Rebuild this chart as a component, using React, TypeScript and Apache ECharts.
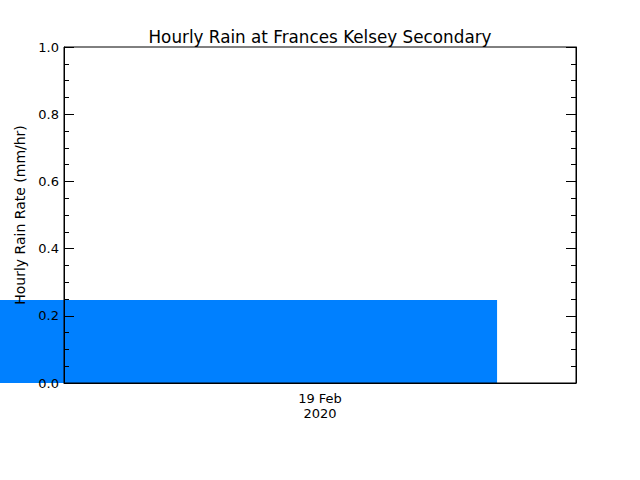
import { useEffect, useRef } from 'react'
import * as echarts from 'echarts'

// x axis in hours of 19 Feb 2020 (axis spans 0..24), bar spills left of the plot
const xTickValues = [12]
const xTickLabels = ['19 Feb\n2020']
const barStarts = [-3]
const barEnds = [20.3]
const rainRates = [0.247]

const FONT = '"DejaVu Sans", sans-serif'

export default function App() {
  const chartRef = useRef<HTMLDivElement>(null)

  useEffect(() => {
    if (!chartRef.current) return
    const chart = echarts.init(chartRef.current, null, { renderer: 'svg' })

    const yAxisBase = {
      type: 'value',
      min: 0,
      max: 1,
      interval: 0.2,
      z: 10,
      splitLine: { show: false },
      axisLine: { show: true, lineStyle: { color: '#000', width: 1 } },
      axisTick: { show: true, inside: true, length: 10, lineStyle: { color: '#000' } },
      minorTick: { show: true, splitNumber: 4, length: 5, lineStyle: { color: '#000' } },
    }

    const option = {
      animation: false,
      backgroundColor: '#fff',
      title: {
        text: 'Hourly Rain at Frances Kelsey Secondary',
        left: 'center',
        top: 23,
        textStyle: { fontFamily: FONT, fontSize: 16.8, fontWeight: 'normal', color: '#000' },
      },
      grid: {
        left: 64,
        top: 47,
        width: 512,
        height: 336,
        show: true,
        z: 10,
        borderColor: '#000',
        borderWidth: 1,
        backgroundColor: 'transparent',
      },
      xAxis: {
        type: 'value',
        min: 0,
        max: 24,
        interval: 12,
        z: 10,
        splitLine: { show: false },
        axisLine: { show: true, lineStyle: { color: '#000' } },
        axisTick: { show: false },
        axisLabel: {
          margin: 8,
          fontFamily: FONT,
          fontSize: 13,
          lineHeight: 15,
          color: '#000',
          showMinLabel: false,
          showMaxLabel: false,
          formatter: (v: number) => {
            const i = xTickValues.indexOf(v)
            return i >= 0 ? xTickLabels[i] : ''
          },
        },
      },
      yAxis: [
        {
          ...yAxisBase,
          name: 'Hourly Rain Rate (mm/hr)',
          nameLocation: 'middle',
          nameGap: 35,
          nameTextStyle: { fontFamily: FONT, fontSize: 14, color: '#000' },
          axisLabel: {
            fontFamily: FONT,
            fontSize: 13,
            color: '#000',
            margin: 5,
            formatter: (v: number) => v.toFixed(1),
          },
        },
        {
          ...yAxisBase,
          position: 'right',
          axisLabel: { show: false },
        },
      ],
      series: [
        {
          type: 'custom',
          z: 1,
          clip: false,
          data: rainRates.map((v, i) => [barStarts[i], barEnds[i], v]),
          encode: { x: [0, 1], y: 2 },
          renderItem: (_params: any, api: any) => {
            const p0 = api.coord([api.value(0), api.value(2)])
            const p1 = api.coord([api.value(1), 0])
            return {
              type: 'rect',
              shape: { x: p0[0], y: p0[1], width: p1[0] - p0[0], height: p1[1] - p0[1] },
              style: { fill: '#0080ff' },
            }
          },
        },
      ],
    }

    chart.setOption(option)
    return () => {
      chart.dispose()
    }
  }, [])

  return (
    <div
      ref={chartRef}
      style={{ position: 'fixed', left: 0, top: 0, width: '640px', height: '480px' }}
    />
  )
}
